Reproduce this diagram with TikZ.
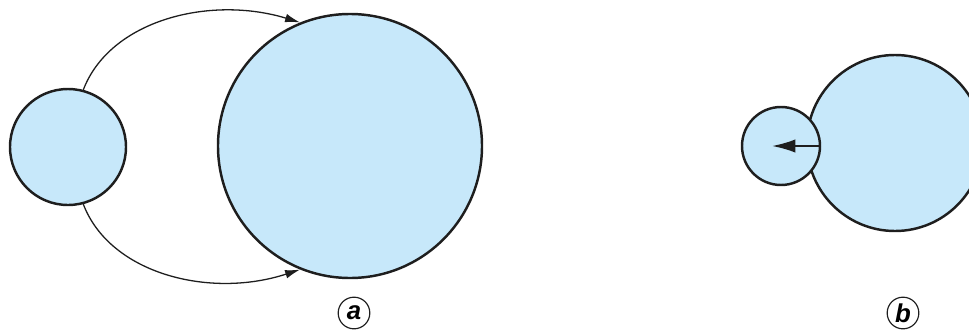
\documentclass[tikz,border=0pt]{standalone}
\usepackage{fontspec}
\setsansfont{Liberation Sans}
\usepackage{xcolor}
\definecolor{ballblue}{RGB}{199, 232, 250}
\definecolor{inkdark}{RGB}{30, 30, 30}
\usepackage{tikz}
\usetikzlibrary{
  arrows.meta,
  positioning
}

\begin{document}
\begin{tikzpicture}[
    x=0.03cm, y=-0.03cm,
    ball/.style={
        circle, draw=inkdark, fill=ballblue, line width=2.1pt,
        inner sep=0pt
    },
  flow/.style={draw=inkdark, line width=1.1pt, -{Latex[length=0.45cm, width=0.26cm]}},
  plbl/.style={circle, draw=inkdark, line width=1pt, inner sep=0pt, minimum size=0.95cm,
    font=\sffamily\bfseries\itshape\fontsize{22}{24}\selectfont}
]
\useasboundingbox (0,0) rectangle (969,331);
\def\yM{147}

% part a
\node[ball, minimum size=3.48cm] (sa) at (68,\yM) {};
\node[ball, minimum size=7.92cm] (ba) at (350,146) {};

\draw[flow] (sa.75) .. controls (110,20) and (210,-5) .. (ba.112);
\draw[flow] (sa.-75) .. controls (110,274) and (210,299) .. (ba.-112);

\node[plbl] (la) at (354,313) {a};

% part b
\node[ball, minimum size=5.28cm] (bb) at (895,143) {};
\node[ball, minimum size=2.34cm] (sb) at (781,146) {};
\coordinate (tb) at (772,146);
\draw[draw=inkdark, line width=1.6pt, -{Latex[length=0.7cm, width=0.4cm]}] (sb.east) -- (tb);

\node[plbl] (lb) at (903,313) {b};

\end{tikzpicture}
\end{document}
